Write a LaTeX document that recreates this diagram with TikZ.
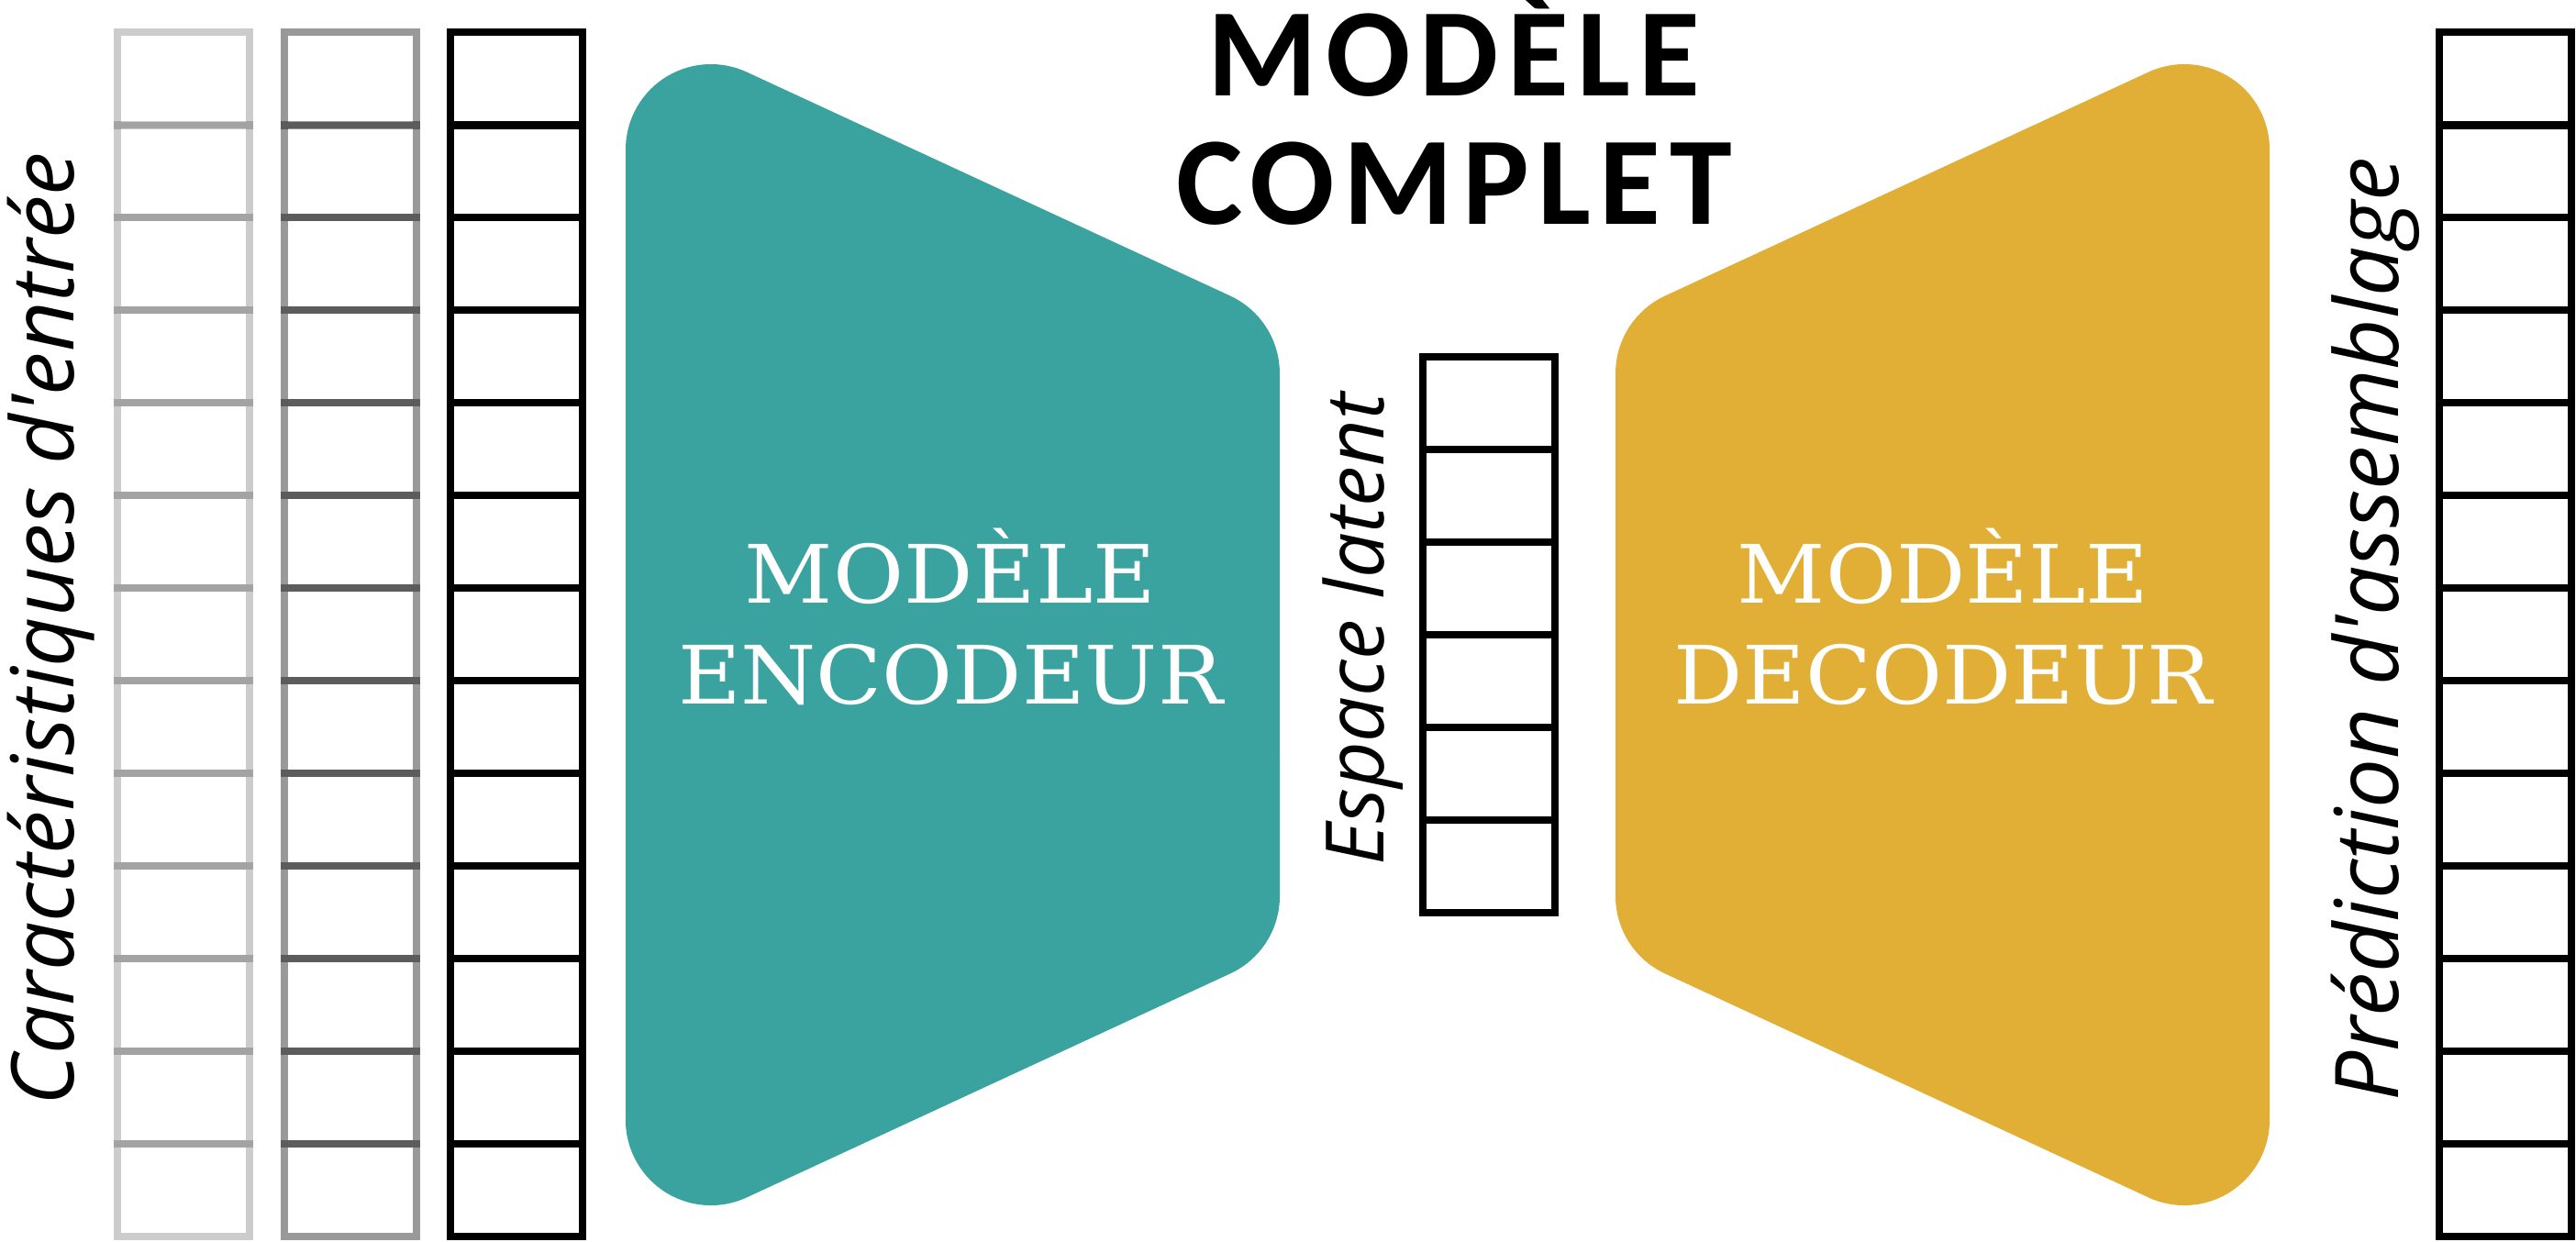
\documentclass[tikz,border=0pt]{standalone}
\usepackage{fontspec}
\setmainfont{DejaVu Serif}[FakeStretch=1.07]
\newfontfamily\titlefont{Carlito}[LetterSpace=7]
\newfontfamily\labelfont{Open Sans}
\usetikzlibrary{matrix}

\definecolor{encteal}{RGB}{59,163,159}
\definecolor{decgold}{RGB}{225,175,54}

\tikzset{
  cellbox/.style={draw, line width=0.08cm, minimum width=1.44cm,
                  minimum height=1.01cm, inner sep=0pt},
  vecteur/.style={matrix of nodes, nodes in empty cells, row sep=-0.08cm,
                  nodes={cellbox, draw opacity=#1}},
  sidelabel/.style={rotate=90, anchor=base, inner sep=0pt,
                    font=\labelfont\itshape\fontsize{#1}{#1}\selectfont},
  blocktext/.style={text=white, align=center,
                    font=\fontsize{25pt}{31.3pt}\selectfont},
}

\begin{document}
\begin{tikzpicture}

\useasboundingbox (0,0) rectangle (28.08,13.54);

% Input feature columns
\matrix (in1) [vecteur=0.2] at (2.00,6.62) {
\\ \\ \\ \\ \\ \\ \\ \\ \\ \\ \\ \\ \\
};
\matrix (in2) [vecteur=0.4] at (3.815,6.62) {
\\ \\ \\ \\ \\ \\ \\ \\ \\ \\ \\ \\ \\
};
\matrix (in3) [vecteur=1] at (5.63,6.62) {
\\ \\ \\ \\ \\ \\ \\ \\ \\ \\ \\ \\ \\
};

% Encoder block
\fill[encteal] (6.82,1.33) -- (6.82,11.91)
  arc[start angle=180, end angle=65.1, radius=0.93] -- (13.411,10.314)
  arc[start angle=65.1, end angle=0, radius=0.93] -- (13.95,3.77)
  arc[start angle=0, end angle=-65.1, radius=0.93] -- (8.141,0.486)
  arc[start angle=-65.1, end angle=-180, radius=0.93] -- cycle;

% Decoder block
\fill[decgold] (24.74,1.33) -- (24.74,11.91)
  arc[start angle=0, end angle=114.9, radius=0.93] -- (18.149,10.314)
  arc[start angle=114.9, end angle=180, radius=0.93] -- (17.61,3.77)
  arc[start angle=180, end angle=245.1, radius=0.93] -- (23.419,0.486)
  arc[start angle=245.1, end angle=360, radius=0.93] -- cycle;

\node (enc) [blocktext] at (10.36,6.82) {MODÈLE\\ENCODEUR};
\node (dec) [blocktext] at (21.18,6.82) {MODÈLE\\DECODEUR};

% Latent vector
\matrix (lat) [vecteur=1] at (16.225,6.62) {
\\ \\ \\ \\ \\ \\
};

% Output column
\matrix (out) [vecteur=1] at (27.31,6.62) {
\\ \\ \\ \\ \\ \\ \\ \\ \\ \\ \\ \\ \\
};

% Labels
\node (lblin) [sidelabel=26.9pt] at (0.80,6.68) {Caractéristiques d'entrée};
\node (lbllat) [sidelabel=25pt] at (15.08,6.68) {Espace latent};
\node (lblout) [sidelabel=27.3pt] at (26.14,6.68) {Prédiction d'assemblage};

\node (titre) [align=center,
  font=\titlefont\bfseries\fontsize{38.9pt}{39.8pt}\selectfont]
  at (15.85,12.36) {MODÈLE\\COMPLET};

\end{tikzpicture}
\end{document}
